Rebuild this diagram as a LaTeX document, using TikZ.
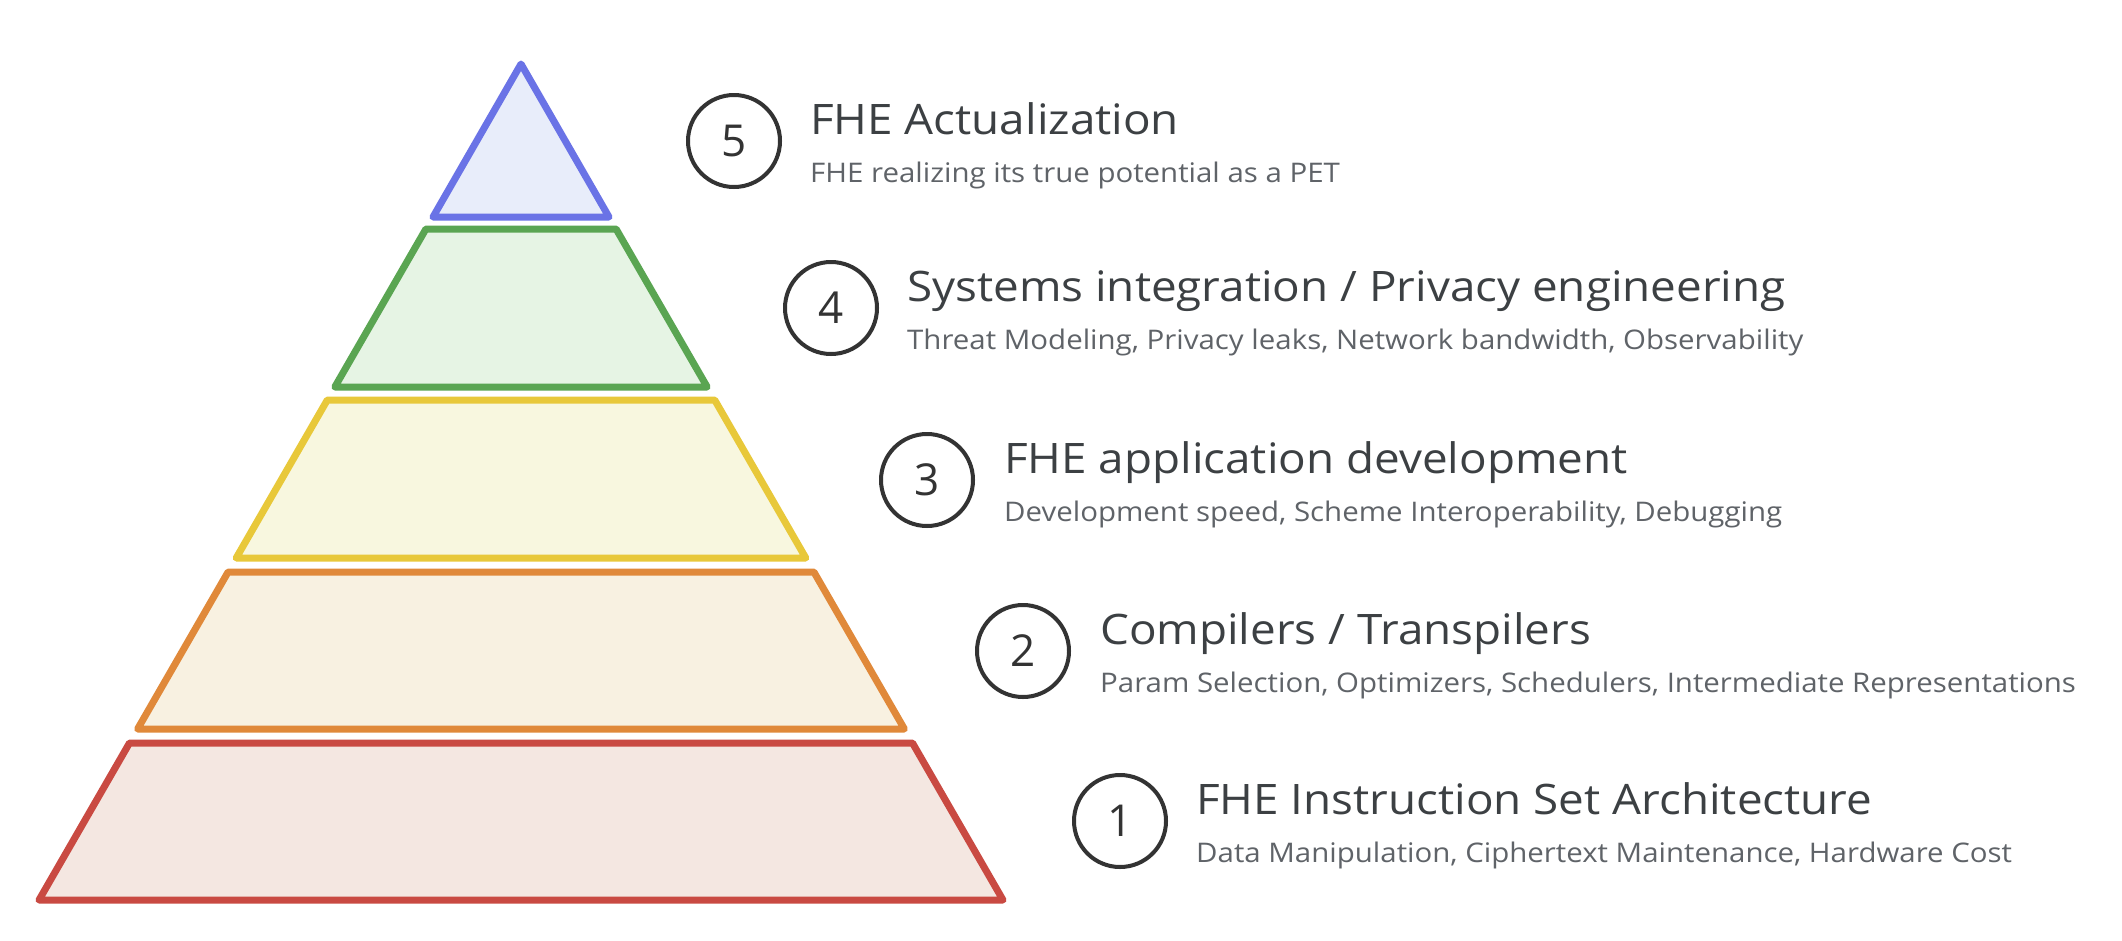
\documentclass[tikz,border=0pt]{standalone}
\usepackage{fontspec}
\setmainfont{Open Sans}
\newfontfamily\widefont[FakeStretch=1.09]{Open Sans}
\definecolor{blueS}{HTML}{6A73E6}
\definecolor{blueF}{HTML}{E8EDFA}
\definecolor{greenS}{HTML}{5AA552}
\definecolor{greenF}{HTML}{E6F4E4}
\definecolor{yellowS}{HTML}{E8C83A}
\definecolor{yellowF}{HTML}{F8F7DF}
\definecolor{orangeS}{HTML}{E0893A}
\definecolor{orangeF}{HTML}{F8F1E1}
\definecolor{redS}{HTML}{C94A42}
\definecolor{redF}{HTML}{F4E7E1}
\definecolor{circC}{HTML}{333333}
\definecolor{titleC}{HTML}{3C4043}
\definecolor{subC}{HTML}{5F6368}
\begin{document}
\begin{tikzpicture}[x=1pt,y=-1pt,
  tier/.style={line width=7pt, line join=round},
  numc/.style={circle, draw=circC, line width=4pt, minimum size=92pt, inner sep=0pt,
    text=circC, font=\fontsize{44}{44}\selectfont},
  ttl/.style={anchor=base west, inner sep=0pt, text=titleC, font=\widefont\fontsize{42}{48}\selectfont},
  sub/.style={anchor=base west, inner sep=0pt, text=subC, font=\widefont\fontsize{27}{32}\selectfont}]
\useasboundingbox (0,0) rectangle (2122,940);
\fill[white] (0,0) rectangle (2122,940);
% tiers
\draw[tier, draw=blueS, fill=blueF] (521,64) -- (609,217) -- (433,217) -- cycle;
\draw[tier, draw=greenS, fill=greenF] (425.9,229) -- (616.1,229) -- (707.2,387) -- (334.8,387) -- cycle;
\draw[tier, draw=yellowS, fill=yellowF] (327.3,400) -- (714.7,400) -- (805.8,558) -- (236.2,558) -- cycle;
\draw[tier, draw=orangeS, fill=orangeF] (228.1,572) -- (813.9,572) -- (904.4,729) -- (137.6,729) -- cycle;
\draw[tier, draw=redS, fill=redF] (129.5,743) -- (912.5,743) -- (1003,900) -- (39,900) -- cycle;
% numbers
\node[numc] (n5) at (734,141) {5};
\node[numc] (n4) at (831,308) {4};
\node[numc] (n3) at (927,480) {3};
\node[numc] (n2) at (1023,651) {2};
\node[numc] (n1) at (1120,821) {1};
% titles
\node[ttl] (t5) at (810,134) {FHE Actualization};
\node[sub] (s5) at (810,182) {FHE realizing its true potential as a PET};
\node[ttl] (t4) at (907,301) {Systems integration / Privacy engineering};
\node[sub] (s4) at (907,349) {Threat Modeling, Privacy leaks, Network bandwidth, Observability};
\node[ttl] (t3) at (1004,473) {FHE application development};
\node[sub] (s3) at (1004,521) {Development speed, Scheme Interoperability, Debugging};
\node[ttl] (t2) at (1100,644) {Compilers / Transpilers};
\node[sub] (s2) at (1100,692) {Param Selection, Optimizers, Schedulers, Intermediate Representations};
\node[ttl] (t1) at (1196,814) {FHE Instruction Set Architecture};
\node[sub] (s1) at (1196,862) {Data Manipulation, Ciphertext Maintenance, Hardware Cost};
\end{tikzpicture}
\end{document}
